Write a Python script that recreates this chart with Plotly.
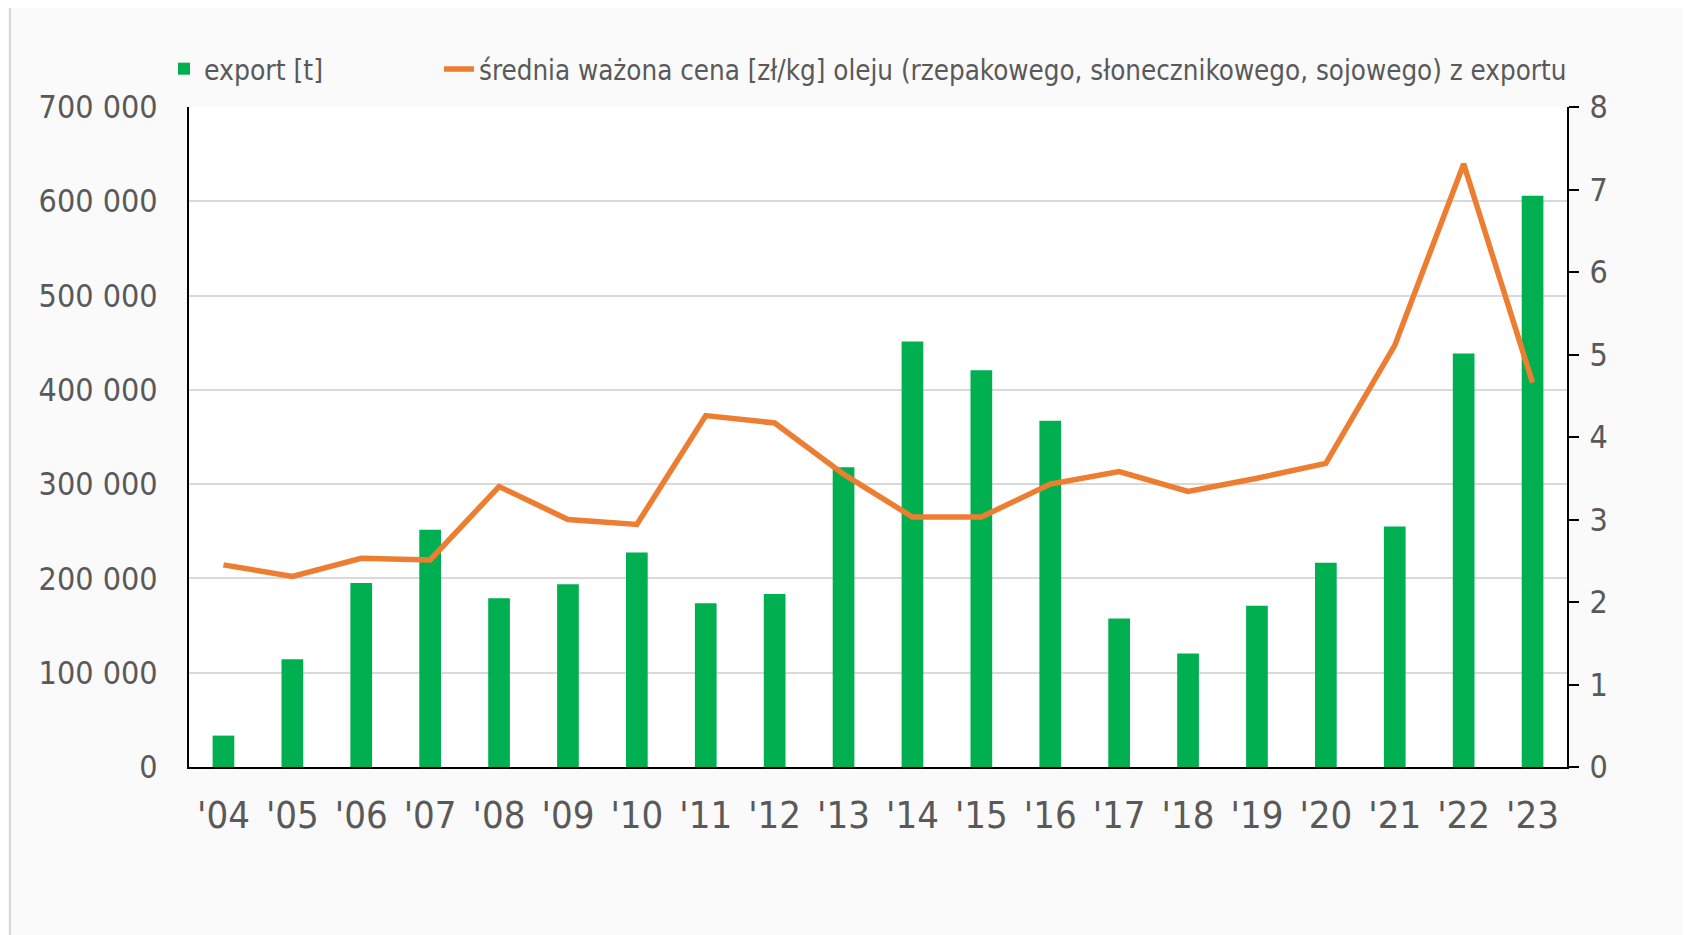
import plotly.graph_objects as go

years = ["'04", "'05", "'06", "'07", "'08", "'09", "'10", "'11", "'12", "'13",
         "'14", "'15", "'16", "'17", "'18", "'19", "'20", "'21", "'22", "'23"]
export_t = [33300, 114200, 195100, 251700, 178900, 193700, 227400, 173600, 183500, 317800,
            451400, 420700, 367300, 157400, 120300, 171100, 216500, 255200, 438600, 605800]
price = [2.45, 2.31, 2.53, 2.51, 3.40, 3.00, 2.94, 4.26, 4.17, 3.55,
         3.03, 3.03, 3.43, 3.58, 3.34, 3.50, 3.68, 5.11, 7.31, 4.66]

left_ticks = [0, 100000, 200000, 300000, 400000, 500000, 600000, 700000]
left_labels = ["0", "100 000", "200 000", "300 000", "400 000", "500 000", "600 000", "700 000"]
right_ticks = [0, 1, 2, 3, 4, 5, 6, 7, 8]

GREEN = "#00B050"
ORANGE = "#ED7D31"
TXT = "#595959"
COND = "DejaVu Sans Condensed, Liberation Sans Narrow, DejaVu Sans, sans-serif"

W, H = 1682, 927
L, R, T, B = 181, 123, 99, 168
PW = W - L - R
PH = H - T - B

fig = go.Figure()
fig.add_trace(go.Bar(x=years, y=export_t, name="export [t]", marker_color=GREEN,
                     marker_line_width=0, legend="legend", showlegend=True))
fig.add_trace(go.Scatter(x=years, y=price, yaxis="y2", mode="lines",
                         name="średnia ważona cena [zł/kg] oleju (rzepakowego, słonecznikowego, sojowego) z exportu",
                         line=dict(color=ORANGE, width=5.5), legend="legend2", showlegend=True))

leg_y = (767 - 69) / PH

fig.update_layout(
    width=W, height=H,
    margin=dict(l=L, r=R, t=T, b=B),
    paper_bgcolor="#fafafa",
    plot_bgcolor="#ffffff",
    bargap=0.685,
    showlegend=True,
    font=dict(family="DejaVu Sans, sans-serif", color=TXT),
    xaxis=dict(showline=True, linecolor="#000000", linewidth=2, ticks="",
               tickfont=dict(family=COND, size=38, color=TXT), showgrid=False,
               ticklabelstandoff=13),
    yaxis=dict(range=[0, 700000], tickvals=left_ticks, ticktext=left_labels,
               showgrid=True, gridcolor="#d9d9d9", gridwidth=1.5,
               showline=True, linecolor="#000000", linewidth=2, ticks="",
               tickfont=dict(family=COND, size=32, color=TXT), zeroline=False,
               ticklabelstandoff=23),
    yaxis2=dict(range=[0, 8], tickvals=right_ticks, overlaying="y", side="right",
                showgrid=False, showline=True, linecolor="#000000", linewidth=2,
                ticks="outside", ticklen=10, tickwidth=2, tickcolor="#000000",
                tickfont=dict(family=COND, size=32, color=TXT), zeroline=False,
                ticklabelstandoff=4),
    legend=dict(orientation="h", x=(164 - 189) / PW, xanchor="left", y=leg_y, yanchor="middle",
                bgcolor="rgba(0,0,0,0)", font=dict(family=COND, size=28, color=TXT)),
    legend2=dict(orientation="h", x=(439 - 189) / PW, xanchor="left", y=leg_y, yanchor="middle",
                 bgcolor="rgba(0,0,0,0)", font=dict(family=COND, size=27.5, color=TXT)),
    shapes=[dict(type="line", xref="paper", yref="paper", x0=-(L - 2) / PW, x1=-(L - 2) / PW,
                 y0=-B / PH, y1=1 + T / PH, line=dict(color="#d6d6d6", width=2))],
)

fig.write_html("out.html")
